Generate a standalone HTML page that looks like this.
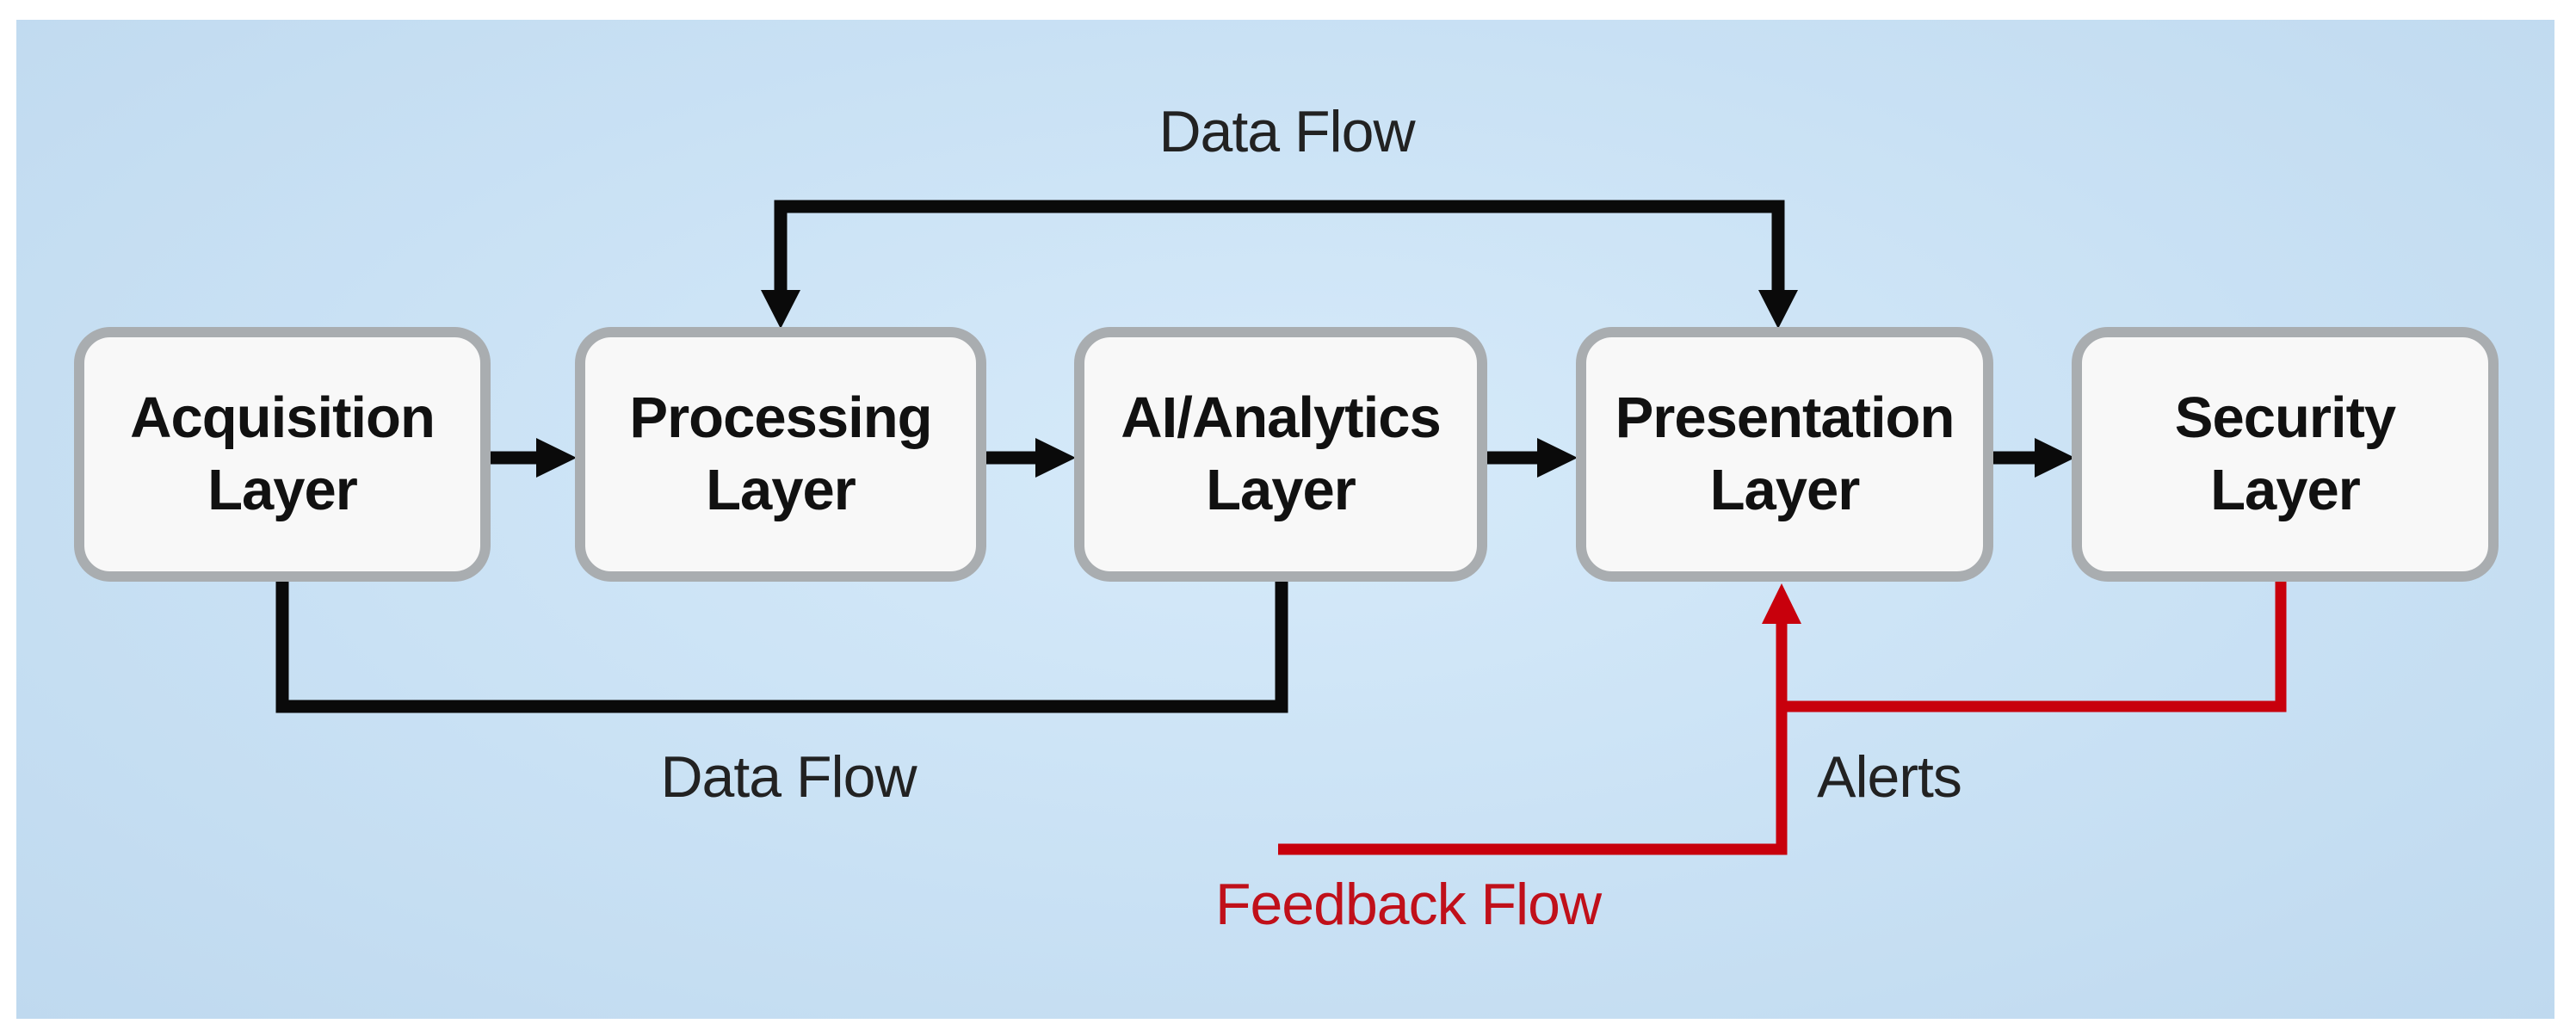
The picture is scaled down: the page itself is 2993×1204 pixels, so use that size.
<!DOCTYPE html>
<html><head><meta charset="utf-8"><style>
html,body{margin:0;padding:0;background:#fff;}
body{width:2993px;height:1204px;position:relative;overflow:hidden;font-family:"Liberation Sans",sans-serif;}
.bg{position:absolute;left:19px;top:23px;width:2949px;height:1161px;background:radial-gradient(ellipse at 50% 45%,#d6eafa 0%,#c9e1f4 55%,#bfd9ef 100%);}
.box{position:absolute;top:380px;height:296px;box-sizing:border-box;border:12px solid #a9adb0;border-radius:42px;background:#f8f8f8;display:flex;align-items:center;justify-content:center;text-align:center;font-weight:bold;font-size:67px;line-height:84px;color:#111;letter-spacing:-1px;}
.lbl{position:absolute;font-size:68px;line-height:80px;color:#222;transform:translateX(-50%);white-space:nowrap;letter-spacing:-1px;}
</style></head><body>
<div class="bg"></div>
<svg style="position:absolute;left:0;top:0" width="2993" height="1204">
<g fill="none" stroke="#0a0a0a" stroke-width="15">
<polyline points="907,340 907,240 2066,240 2066,340"/>
<polyline points="328,676 328,821 1489,821 1489,676"/>
<line x1="568" y1="532" x2="630" y2="532"/>
<line x1="1143" y1="532" x2="1210" y2="532"/>
<line x1="1726" y1="532" x2="1792" y2="532"/>
<line x1="2314" y1="532" x2="2370" y2="532"/>
</g>
<g fill="#0a0a0a">
<polygon points="884,337 930,337 907,382"/>
<polygon points="2043,337 2089,337 2066,382"/>
<polygon points="623,509 623,555 670,532"/>
<polygon points="1203,509 1203,555 1250,532"/>
<polygon points="1786,509 1786,555 1833,532"/>
<polygon points="2364,509 2364,555 2411,532"/>
</g>
<g fill="none" stroke="#c8000c" stroke-width="13">
<polyline points="2650,676 2650,821 2070,821"/>
<polyline points="1485,987 2070,987 2070,720"/>
</g>
<polygon fill="#c8000c" points="2047,725 2093,725 2070,678"/>
</svg>
<div class="box" style="left:86px;width:484px;">Acquisition<br>Layer</div>
<div class="box" style="left:668px;width:478px;">Processing<br>Layer</div>
<div class="box" style="left:1248px;width:480px;">AI/Analytics<br>Layer</div>
<div class="box" style="left:1831px;width:485px;">Presentation<br>Layer</div>
<div class="box" style="left:2407px;width:496px;">Security<br>Layer</div>
<div class="lbl" style="left:1495px;top:113px;">Data Flow</div>
<div class="lbl" style="left:916px;top:863px;">Data Flow</div>
<div class="lbl" style="left:2195px;top:863px;">Alerts</div>
<div class="lbl" style="left:1636px;top:1011px;color:#c0101a;">Feedback Flow</div>
</body></html>
